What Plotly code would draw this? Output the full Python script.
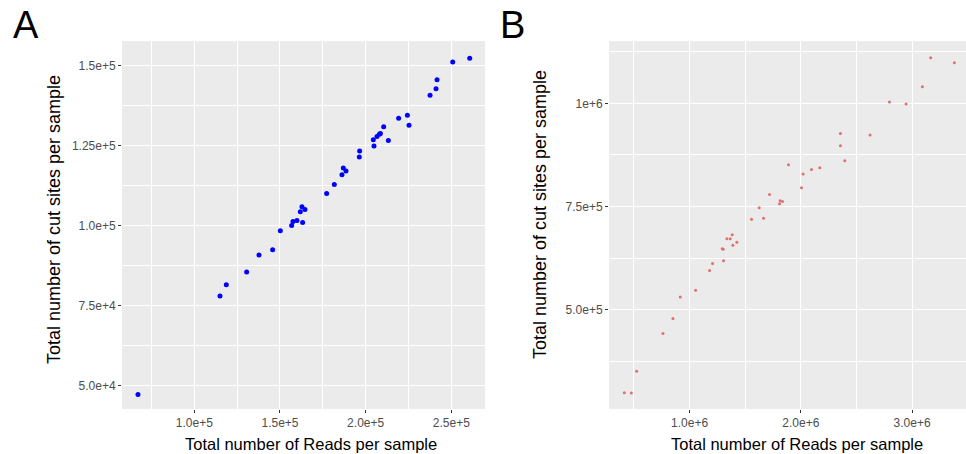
import plotly.graph_objects as go

# Panel A data
reads_a = [67120, 114980, 118680, 130550, 137740, 145720, 150200, 156810, 157590, 159920,
           163230, 161870, 162840, 164590, 177240, 181710, 186190, 186970, 188530, 196300,
           196500, 204480, 204870, 206610, 207980, 208600, 210520, 213250, 219260, 224360,
           225320, 237590, 241090, 241670, 250820, 260740]
cuts_a = [47190, 77920, 81460, 85420, 90730, 92400, 98330, 100000, 101250, 101560,
          100940, 104270, 105830, 105000, 110000, 112810, 115830, 117920, 116980, 121350,
          123230, 126770, 124790, 127810, 128440, 128700, 130830, 126560, 133440, 134380,
          131250, 140630, 142710, 145520, 151040, 152190]

# Panel B data
reads_b = [413170, 476050, 523950, 760480, 850300, 916170, 1053890, 1179640, 1206590, 1293410,
           1302400, 1305390, 1335330, 1365270, 1383230, 1389220, 1425150, 1556890, 1625750, 1664670,
           1718560, 1808380, 1814370, 1835330, 1889220, 2005990, 2020960, 2095810, 2170660, 2356290,
           2356290, 2395210, 2622750, 2796410, 2946110, 3092810, 3167660, 3380240]
cuts_b = [298540, 297730, 350320, 441750, 478160, 530740, 546930, 594660, 611650, 647250,
          646500, 618120, 671520, 671520, 681230, 656150, 663430, 719260, 746760, 721680,
          779130, 756470, 763750, 762140, 851130, 795310, 828480, 839810, 843850, 927180,
          897250, 860840, 923140, 1003240, 998380, 1040450, 1110840, 1098710]

xa_ticks = [100000, 150000, 200000, 250000]
xa_text = ["1.0e+5", "1.5e+5", "2.0e+5", "2.5e+5"]
ya_ticks = [50000, 75000, 100000, 125000, 150000]
ya_text = ["5.0e+4", "7.5e+4", "1.0e+5", "1.25e+5", "1.5e+5"]
xb_ticks = [1000000, 2000000, 3000000]
xb_text = ["1.0e+6", "2.0e+6", "3.0e+6"]
yb_ticks = [500000, 750000, 1000000]
yb_text = ["5.0e+5", "7.5e+5", "1e+6"]

W, H = 966, 454
xtitle = "Total number of Reads per sample"
ytitle = "Total number of cut sites per sample"
FONT = "Liberation Sans, Arial, sans-serif"

fig = go.Figure()
fig.add_trace(go.Scatter(x=reads_a, y=cuts_a, mode="markers", xaxis="x", yaxis="y",
                         marker=dict(color="#0000FF", size=5), showlegend=False))
fig.add_trace(go.Scatter(x=reads_b, y=cuts_b, mode="markers", xaxis="x2", yaxis="y2",
                         marker=dict(color="#E0706E", size=3), showlegend=False))

tickfont = dict(family=FONT, size=12, color="#4D4D4D")
common = dict(showline=False, zeroline=False, ticks="outside", ticklen=3, tickwidth=1,
              tickcolor="#333333", gridcolor="#FFFFFF", gridwidth=1.1, tickfont=tickfont)

yd = [1 - 409 / H, 1 - 41 / H]


def px(x):
    return x / W


def py(y):
    return 1 - y / H


def title_ann(text, x, y, angle=0, size=16.5):
    return dict(text=text, x=px(x), y=py(y), xref="paper", yref="paper",
                xanchor="center", yanchor="middle", textangle=angle, showarrow=False,
                font=dict(family=FONT, size=size, color="#000000"))


fig.update_layout(
    width=W, height=H,
    margin=dict(l=0, r=0, t=0, b=0),
    paper_bgcolor="white", plot_bgcolor="#EBEBEB",
    xaxis=dict(domain=[px(122), px(485)], range=[57800, 269660], anchor="y",
               tickvals=xa_ticks, ticktext=xa_text,
               minor=dict(dtick=50000, tick0=75000, showgrid=True, gridcolor="#FFFFFF", gridwidth=0.5, ticks=""),
               **common),
    yaxis=dict(domain=yd, range=[42660, 157600], anchor="x",
               tickvals=ya_ticks, ticktext=ya_text,
               minor=dict(dtick=25000, tick0=62500, showgrid=True, gridcolor="#FFFFFF", gridwidth=0.5, ticks=""),
               **common),
    xaxis2=dict(domain=[px(609), 1.0], range=[275450, 3485000], anchor="y2",
                tickvals=xb_ticks, ticktext=xb_text,
                minor=dict(dtick=1000000, tick0=500000, showgrid=True, gridcolor="#FFFFFF", gridwidth=0.5, ticks=""),
                **common),
    yaxis2=dict(domain=yd, range=[258900, 1151290], anchor="x2",
                tickvals=yb_ticks, ticktext=yb_text,
                minor=dict(dtick=250000, tick0=375000, showgrid=True, gridcolor="#FFFFFF", gridwidth=0.5, ticks=""),
                **common),
    annotations=[
        dict(text="A", x=px(11), y=py(2), xref="paper", yref="paper", xanchor="left", yanchor="top",
             showarrow=False, font=dict(family=FONT, size=38, color="black")),
        dict(text="B", x=px(498), y=py(2), xref="paper", yref="paper", xanchor="left", yanchor="top",
             showarrow=False, font=dict(family=FONT, size=38, color="black")),
        title_ann(xtitle, 311, 444),
        title_ann(xtitle, 797, 444),
        title_ann(ytitle, 54, 220, -90, 18),
        title_ann(ytitle, 540, 215, -90, 18),
    ],
)

fig.write_html("out.html", config={"displayModeBar": False},
               post_script="document.body.style.margin='0px';")
